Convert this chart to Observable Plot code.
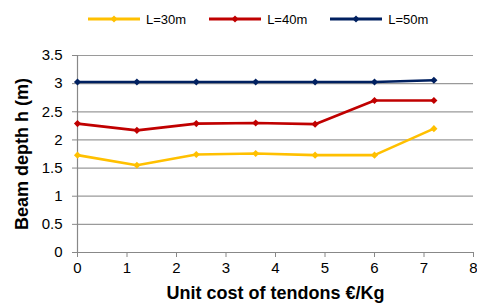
<!DOCTYPE html>
<html>
<head>
<meta charset="utf-8">
<script src="https://cdn.jsdelivr.net/npm/d3@7"></script>
<script src="https://cdn.jsdelivr.net/npm/@observablehq/plot@0.6"></script>
<style>
  html, body { margin: 0; padding: 0; background: #fff; }
  body { width: 477px; height: 307px; overflow: hidden; font-family: "Liberation Sans", Arial, sans-serif; }
  #legend { height: 38px; display: flex; align-items: center; padding-left: 88px; box-sizing: border-box; font-size: 13px; color: #000; }
  .item { display: flex; align-items: center; margin-right: 23px; }
  .item svg { margin-right: 6px; }
</style>
</head>
<body>
<div id="legend"></div>
<div id="chart"></div>
<script>
const costs = [0, 1.2, 2.4, 3.6, 4.8, 6.0, 7.2];
const seriesNames = ["L=30m", "L=40m", "L=50m"];
const L30 = [1.73, 1.55, 1.74, 1.76, 1.73, 1.73, 2.20];
const L40 = [2.29, 2.17, 2.29, 2.30, 2.28, 2.70, 2.70];
const L50 = [3.03, 3.03, 3.03, 3.03, 3.03, 3.03, 3.06];
const seriesColors = ["#FFC000", "#C00000", "#002060"];
const xTicks = [0, 1, 2, 3, 4, 5, 6, 7, 8];
const yTicks = [0, 0.5, 1, 1.5, 2, 2.5, 3, 3.5];
const xTitle = "Unit cost of tendons €/Kg";
const yTitle = "Beam depth h (m)";

const values = [L30, L40, L50];
const data = [];
seriesNames.forEach((s, i) => costs.forEach((c, j) => data.push({series: s, cost: c, h: values[i][j]})));

// legend
const legend = d3.select("#legend");
seriesNames.forEach((s, i) => {
  const it = legend.append("div").attr("class", "item");
  const svg = it.append("svg").attr("width", 52).attr("height", 10);
  svg.append("line").attr("x1", 0).attr("x2", 52).attr("y1", 5).attr("y2", 5)
    .attr("stroke", seriesColors[i]).attr("stroke-width", 3);
  svg.append("path").attr("d", "M26,1.5L29.5,5L26,8.5L22.5,5Z").attr("fill", seriesColors[i]);
  it.append("span").text(s);
});

const chart = Plot.plot({
  width: 477,
  height: 269,
  marginLeft: 77,
  marginRight: 4,
  marginTop: 17,
  marginBottom: 55,
  x: {domain: [0, 8]},
  y: {domain: [0, 3.5]},
  color: {domain: seriesNames, range: seriesColors},
  style: {fontFamily: '"Liberation Sans", Arial, sans-serif', color: "#000", background: "#fff", overflow: "visible"},
  marks: [
    Plot.gridY(yTicks.slice(1), {stroke: "#9a9a9a", strokeOpacity: 1, strokeWidth: 1.2}),
    Plot.ruleX([0], {stroke: "#888", strokeWidth: 1.2}),
    Plot.ruleY([0], {stroke: "#888", strokeWidth: 1.2}),
    Plot.axisY(yTicks, {tickSize: 5, tickPadding: 10, fontSize: 15, label: null, stroke: "#888", tickFormat: d => String(d)}),
    Plot.axisX(xTicks, {tickSize: 5, tickPadding: 5, fontSize: 15, label: null, stroke: "#888", tickFormat: d => String(d)}),
    Plot.line(data, {x: "cost", y: "h", z: "series", stroke: "series", strokeWidth: 2.6}),
    Plot.dot(data, {x: "cost", y: "h", fill: "series", symbol: "diamond2", r: 3.2, stroke: null}),
    Plot.text([xTitle], {text: d => d, frameAnchor: "bottom", dy: 41, lineAnchor: "middle", fontSize: 18, fontWeight: "bold"}),
    Plot.text([yTitle], {text: d => d, frameAnchor: "left", rotate: -90, dx: -55, textAnchor: "middle", lineAnchor: "middle", fontSize: 18, fontWeight: "bold"})
  ]
});
document.getElementById("chart").appendChild(chart);
</script>
</body>
</html>
